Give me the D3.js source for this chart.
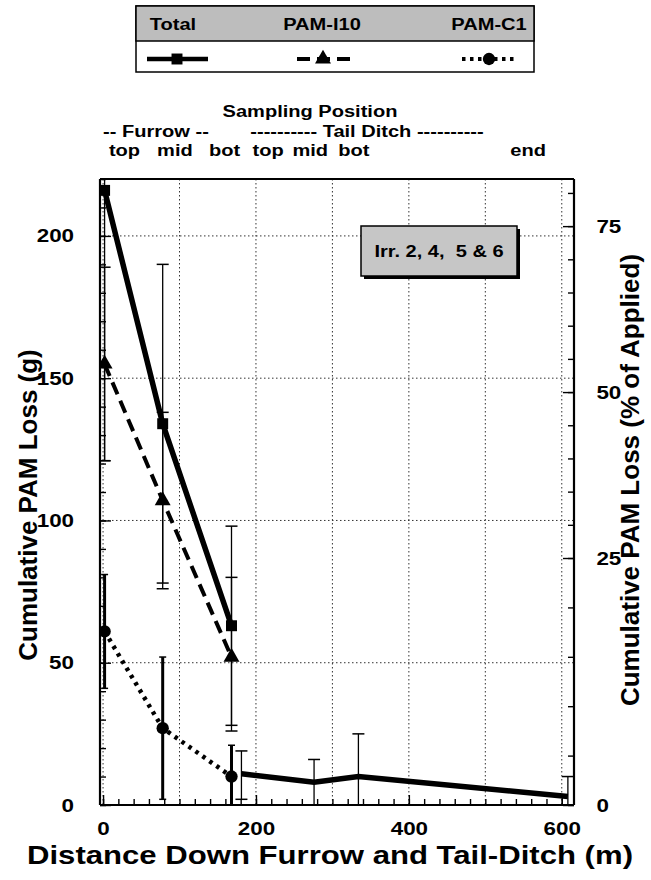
<!DOCTYPE html>
<html><head><meta charset="utf-8">
<script src="https://cdn.jsdelivr.net/npm/d3@7"></script>
<style>
body{margin:0;background:#fff}
text{font-family:"Liberation Sans",Arial,Helvetica,sans-serif;font-weight:bold;fill:#000}
</style></head>
<body><svg id="c" width="651" height="880"></svg>
<script>
// ---------- data ----------
const furrowDist = [2, 78, 168];
const totalFurrow = [216, 134, 63];
const totalFurrowLo = [121, 78, 28];
const totalFurrowHi = [300, 190, 98];
const i10Furrow = [155, 107, 52];
const i10Lo = [121, 76, 26];
const i10Hi = [189, 138, 80];
const c1Furrow = [61, 27, 10];
const c1Lo = [41, 2, 0];
const c1Hi = [81, 52, 21];
const ditchDist = [181, 276, 334, 608];
const ditchTotal = [11, 8, 10, 3];
const ditchLo = [2, 0, 0, 0];
const ditchHi = [19, 16, 25, 10];
const xTicks = [0, 200, 400, 600];
const yTicks = [0, 50, 100, 150, 200];
const pctTicks = [0, 25, 50, 75];
const samplingLabels = ["top", "mid", "bot", "top", "mid", "bot", "end"];
const samplingAt = [28, 94, 159, 216, 271, 328, 556];
const legendNames = ["Total", "PAM-I10", "PAM-C1"];
// right axis as printed: g-equivalents of the % labels (0, 25, top of axis)
const pctBreaks = [0, 25, 82.1];
const pctBreaksG = [0, 86.8, 220];

// ---------- layout ----------
const SX = 1.18;
const L = 100, R = 574, T = 179, B = 805;
const svg = d3.select("#c");
const x = d3.scaleLinear().domain([-4, 616]).range([L, R]);
const y = d3.scaleLinear().domain([0, 220]).range([B, T]);
const yp = d3.scaleLinear().domain(pctBreaks).range(pctBreaksG.map(y));

function hText(px, py, str, size, anchor) {
  return svg.append("text")
    .attr("transform", `translate(${px},${py}) scale(${SX},1)`)
    .attr("text-anchor", anchor || "middle")
    .attr("xml:space", "preserve").style("white-space", "pre")
    .style("font-size", size + "px").text(str);
}

svg.append("clipPath").attr("id", "clip").append("rect")
  .attr("x", L).attr("y", T).attr("width", R - L).attr("height", B - T);

// grid
const grid = svg.append("g").attr("stroke", "#333").attr("stroke-width", 1)
  .attr("stroke-dasharray", "1.5,2.5");
grid.selectAll("line.v").data(d3.range(0, 601, 100)).join("line")
  .attr("x1", d => x(d)).attr("x2", d => x(d)).attr("y1", T).attr("y2", B);
grid.selectAll("line.h").data([50, 100, 150, 200]).join("line")
  .attr("x1", L).attr("x2", R).attr("y1", d => y(d)).attr("y2", d => y(d));

// axes
const axes = svg.append("g");
function styleAxis(g) {
  g.select(".domain").remove();
  g.selectAll("line").attr("stroke", "#000").attr("stroke-width", 1.4);
}
function styleLabels(g) {
  g.selectAll("text").attr("transform", `scale(${SX},1)`).style("font-size", "19px");
}
axes.append("g").attr("transform", `translate(${L},0)`)
  .call(d3.axisLeft(y).tickValues(d3.range(0, 221, 10)).tickSize(-6).tickFormat(""))
  .call(styleAxis);
axes.append("g").attr("transform", `translate(${L},0)`)
  .call(d3.axisLeft(y).tickValues(yTicks).tickSize(-11).tickPadding(22))
  .call(styleAxis).call(styleLabels);
axes.append("g").attr("transform", `translate(${R},0)`)
  .call(d3.axisRight(yp).tickValues(d3.range(0, 81, 5)).tickSize(-6).tickFormat(""))
  .call(styleAxis);
axes.append("g").attr("transform", `translate(${R},0)`)
  .call(d3.axisRight(yp).tickValues(pctTicks).tickSize(-11).tickPadding(19))
  .call(styleAxis).call(styleLabels);
axes.append("g").attr("transform", `translate(0,${B})`)
  .call(d3.axisBottom(x).tickValues(d3.range(0, 601, 20)).tickSize(-6).tickFormat(""))
  .call(styleAxis);
axes.append("g").attr("transform", `translate(0,${B})`)
  .call(d3.axisBottom(x).tickValues(xTicks).tickSize(-10).tickPadding(17))
  .call(styleAxis).call(styleLabels);

// frame
const frame = [[L, T, L, B], [R, T, R, B], [L, B, R, B], [L, T, R, T]];
svg.selectAll("line.frame").data(frame).join("line")
  .attr("x1", d => d[0]).attr("y1", d => d[1]).attr("x2", d => d[2]).attr("y2", d => d[3])
  .attr("stroke", "#000").attr("stroke-width", (d, i) => i === 3 ? 1.8 : 2.2);

// ---------- series ----------
const plot = svg.append("g").attr("clip-path", "url(#clip)");
function errBars(xs, lo, hi, w, cap) {
  xs.forEach((d, i) => {
    plot.append("line").attr("x1", x(d)).attr("x2", x(d))
      .attr("y1", y(lo[i])).attr("y2", y(hi[i]))
      .attr("stroke", "#000").attr("stroke-width", w);
    [lo[i], hi[i]].forEach(v => plot.append("line")
      .attr("x1", x(d) - cap / 2).attr("x2", x(d) + cap / 2)
      .attr("y1", y(v)).attr("y2", y(v))
      .attr("stroke", "#000").attr("stroke-width", 1.5));
  });
}
errBars(furrowDist, totalFurrowLo, totalFurrowHi, 1.3, 12);
errBars(furrowDist, i10Lo, i10Hi, 1.3, 12);
errBars(furrowDist, c1Lo, c1Hi, 3, 7);
errBars(ditchDist, ditchLo, ditchHi, 1.3, 12);

const line = d3.line().x(d => x(d[0])).y(d => y(d[1]));
const zip = (a, b) => a.map((d, i) => [d, b[i]]);
plot.append("path").attr("d", line(zip(furrowDist, c1Furrow)))
  .attr("fill", "none").attr("stroke", "#000").attr("stroke-width", 4.5)
  .attr("stroke-dasharray", "3.5,5");
plot.append("path").attr("d", line(zip(furrowDist, i10Furrow)))
  .attr("fill", "none").attr("stroke", "#000").attr("stroke-width", 4)
  .attr("stroke-dasharray", "13,7");
plot.append("path").attr("d", line(zip(furrowDist, totalFurrow)))
  .attr("fill", "none").attr("stroke", "#000").attr("stroke-width", 5.5);
plot.append("path").attr("d", line(zip(ditchDist, ditchTotal)))
  .attr("fill", "none").attr("stroke", "#000").attr("stroke-width", 5.5);

const sq = d3.symbol().type(d3.symbolSquare).size(120);
const tri = d3.symbol().type(d3.symbolTriangle).size(110);
const cir = d3.symbol().type(d3.symbolCircle).size(120);
plot.selectAll("path.sq").data(zip(furrowDist, totalFurrow)).join("path")
  .attr("d", sq).attr("transform", d => `translate(${x(d[0])},${y(d[1])})`);
plot.selectAll("path.tri").data(zip(furrowDist, i10Furrow)).join("path")
  .attr("d", tri).attr("transform", d => `translate(${x(d[0])},${y(d[1])})`);
plot.selectAll("path.cir").data(zip(furrowDist, c1Furrow)).join("path")
  .attr("d", cir).attr("transform", d => `translate(${x(d[0])},${y(d[1])})`);

// ---------- annotation box ----------
svg.append("rect").attr("x", 364).attr("y", 229).attr("width", 156).attr("height", 50).attr("fill", "#000");
svg.append("rect").attr("x", 361).attr("y", 226).attr("width", 156).attr("height", 50)
  .attr("fill", "#c6c6c6").attr("stroke", "#000").attr("stroke-width", 1.5);
hText(439, 257, "Irr. 2, 4,  5 & 6", 17);

// ---------- sampling position header ----------
hText(310, 117, "Sampling Position", 17);
hText(156, 137, "-- Furrow --", 17);
hText(367, 137, "---------- Tail Ditch ----------", 17);
samplingLabels.forEach((s, i) => hText(x(samplingAt[i]), 156, s, 17));

// ---------- axis titles ----------
svg.append("text").attr("x", 330).attr("y", 864).attr("text-anchor", "middle")
  .attr("textLength", 606).attr("lengthAdjust", "spacingAndGlyphs")
  .style("font-size", "25px").text("Distance Down Furrow and Tail-Ditch (m)");
svg.append("text").attr("transform", "translate(37,505) rotate(-90)")
  .attr("text-anchor", "middle").style("font-size", "26px").text("Cumulative PAM Loss (g)");
svg.append("text").attr("transform", "translate(639,480) rotate(-90)")
  .attr("text-anchor", "middle").style("font-size", "26px").text("Cumulative PAM Loss (% of Applied)");

// ---------- legend ----------
const lg = svg.append("g");
lg.append("rect").attr("x", 136).attr("y", 6).attr("width", 398).attr("height", 66)
  .attr("fill", "#fff").attr("stroke", "#000").attr("stroke-width", 1.5);
lg.append("rect").attr("x", 136).attr("y", 6).attr("width", 398).attr("height", 35)
  .attr("fill", "#bdbdbd").attr("stroke", "#000").attr("stroke-width", 1.5);
const lgX = [173, 322, 489];
legendNames.forEach((n, i) => hText(lgX[i], 30, n, 17));
const ly = 59;
lg.append("line").attr("x1", 147).attr("x2", 208).attr("y1", ly).attr("y2", ly)
  .attr("stroke", "#000").attr("stroke-width", 4.5);
lg.append("path").attr("d", sq).attr("transform", `translate(177,${ly})`);
lg.append("line").attr("x1", 297).attr("x2", 350).attr("y1", ly).attr("y2", ly)
  .attr("stroke", "#000").attr("stroke-width", 4).attr("stroke-dasharray", "13,7");
lg.append("path").attr("d", tri).attr("transform", `translate(323,${ly})`);
lg.append("line").attr("x1", 462).attr("x2", 516).attr("y1", ly).attr("y2", ly)
  .attr("stroke", "#000").attr("stroke-width", 4).attr("stroke-dasharray", "3.5,4.5");
lg.append("path").attr("d", cir).attr("transform", `translate(489,${ly})`);
</script>
</body></html>
